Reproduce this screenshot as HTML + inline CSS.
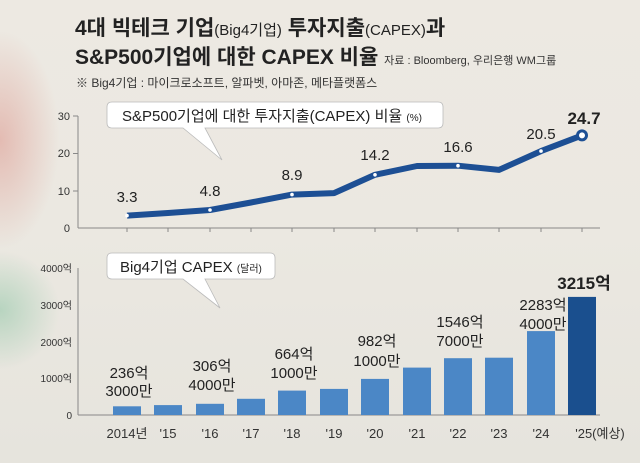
<!DOCTYPE html>
<html><head><meta charset="utf-8"><style>
body{margin:0;width:640px;height:463px;overflow:hidden;font-family:"Liberation Sans","Noto Sans CJK KR",sans-serif}
.bg{position:absolute;left:0;top:0;width:640px;height:463px;background:linear-gradient(180deg,#ede9e2 0%,#ebe8e1 50%,#e6e4dd 100%)}
</style></head><body>
<div class="bg"></div>
<div style="position:absolute;left:0;top:30px;width:60px;height:220px;background:radial-gradient(ellipse at 0% 50%,rgba(220,150,140,.55),rgba(235,230,220,0) 70%)"></div>
<div style="position:absolute;left:0;top:250px;width:60px;height:120px;background:radial-gradient(ellipse at 0% 50%,rgba(150,200,170,.6),rgba(235,230,220,0) 70%)"></div>
<svg width="640" height="463" style="position:absolute;left:0;top:0" font-family="Liberation Sans, Noto Sans CJK KR, sans-serif">
<text x="75" y="35" font-size="21" font-weight="bold" fill="#222">4대 빅테크 기업<tspan font-size="15" font-weight="normal">(Big4기업)</tspan> 투자지출<tspan font-size="15" font-weight="normal">(CAPEX)</tspan>과</text>
<text x="75" y="64" font-size="21" font-weight="bold" fill="#222">S&amp;P500기업에 대한 CAPEX 비율 <tspan font-size="11" font-weight="normal" fill="#333">자료 : Bloomberg, 우리은행 WM그룹</tspan></text>
<text x="76" y="87" font-size="12" fill="#333">※ Big4기업 : 마이크로소프트, 알파벳, 아마존, 메타플랫폼스</text>
<g font-size="11" fill="#333" text-anchor="end">
<text x="70" y="120">30</text><text x="70" y="157">20</text><text x="70" y="195">10</text><text x="70" y="232">0</text>
</g>
<line x1="78" y1="116" x2="78" y2="228" stroke="#888"/>
<line x1="78" y1="228" x2="600" y2="228" stroke="#888"/>
<g stroke="#888"><line x1="73" y1="116" x2="78" y2="116"/><line x1="73" y1="153.5" x2="78" y2="153.5"/><line x1="73" y1="191" x2="78" y2="191"/>
<line x1="127" y1="228" x2="127" y2="232"/><line x1="168" y1="228" x2="168" y2="232"/><line x1="210" y1="228" x2="210" y2="232"/><line x1="251" y1="228" x2="251" y2="232"/><line x1="292" y1="228" x2="292" y2="232"/><line x1="334" y1="228" x2="334" y2="232"/><line x1="375" y1="228" x2="375" y2="232"/><line x1="417" y1="228" x2="417" y2="232"/><line x1="458" y1="228" x2="458" y2="232"/><line x1="499" y1="228" x2="499" y2="232"/><line x1="541" y1="228" x2="541" y2="232"/><line x1="582" y1="228" x2="582" y2="232"/></g>
<polyline fill="none" stroke="#1d4f94" stroke-width="6" stroke-linejoin="round" points="127,215.6 168,213 210,210 251,202.5 292,194.6 334,193.1 375,174.8 417,166 458,165.7 499,169.9 541,151.1 582,135.4"/>
<g fill="#fff"><circle cx="127" cy="215.6" r="1.8"/><circle cx="210" cy="210" r="1.8"/><circle cx="292" cy="194.6" r="1.8"/><circle cx="375" cy="174.8" r="1.8"/><circle cx="458" cy="165.7" r="1.8"/><circle cx="541" cy="151.1" r="1.8"/></g>
<circle cx="582" cy="135.4" r="4.5" fill="#fff" stroke="#1d4f94" stroke-width="3"/>
<g font-size="15" fill="#222" text-anchor="middle">
<text x="127" y="202">3.3</text><text x="210" y="196">4.8</text><text x="292" y="180">8.9</text><text x="375" y="160">14.2</text><text x="458" y="152">16.6</text><text x="541" y="139">20.5</text>
<text x="584" y="124" font-weight="bold" font-size="17">24.7</text></g>
<path d="M112,102 H438 Q443,102 443,107 V123 Q443,128 438,128 H205 L222,160 L183,128 H112 Q107,128 107,123 V107 Q107,102 112,102 Z" fill="#fff" stroke="#bbb" stroke-width="0.8"/>
<text x="122" y="121" font-size="15" fill="#222">S&amp;P500기업에 대한 투자지출(CAPEX) 비율 <tspan font-size="10">(%)</tspan></text>
<g font-size="10" fill="#333" text-anchor="end">
<text x="72" y="272">4000억</text><text x="72" y="309">3000억</text><text x="72" y="346">2000억</text><text x="72" y="382">1000억</text><text x="72" y="419">0</text>
</g>
<line x1="78" y1="268" x2="78" y2="415" stroke="#888"/>
<line x1="78" y1="415" x2="600" y2="415" stroke="#888"/>
<g fill="#4b87c6">
<rect x="113" y="406.3" width="28" height="8.7"/><rect x="154" y="405.1" width="28" height="9.9"/><rect x="196" y="403.8" width="28" height="11.2"/><rect x="237" y="398.8" width="28" height="16.2"/><rect x="278" y="390.6" width="28" height="24.4"/><rect x="320" y="388.9" width="28" height="26.1"/><rect x="361" y="378.9" width="28" height="36.1"/><rect x="403" y="367.6" width="28" height="47.4"/><rect x="444" y="358.2" width="28" height="56.8"/><rect x="485" y="357.7" width="28" height="57.3"/><rect x="527" y="331.1" width="28" height="83.9"/></g>
<rect x="568" y="296.9" width="28" height="118.1" fill="#1a4f8e"/>
<g font-size="15" fill="#222" text-anchor="middle">
<text x="129" y="378">236억</text><text x="129" y="396">3000만</text>
<text x="212" y="371">306억</text><text x="212" y="390">4000만</text>
<text x="294" y="359">664억</text><text x="294" y="378">1000만</text>
<text x="377" y="346">982억</text><text x="377" y="366">1000만</text>
<text x="460" y="327">1546억</text><text x="460" y="346">7000만</text>
<text x="543" y="310">2283억</text><text x="543" y="329">4000만</text>
<text x="584" y="289" font-weight="bold" font-size="17">3215억</text></g>
<g font-size="13" fill="#333" text-anchor="middle">
<text x="127" y="438">2014년</text><text x="168" y="438">'15</text><text x="210" y="438">'16</text><text x="251" y="438">'17</text><text x="292" y="438">'18</text><text x="334" y="438">'19</text><text x="375" y="438">'20</text><text x="417" y="438">'21</text><text x="458" y="438">'22</text><text x="499" y="438">'23</text><text x="541" y="438">'24</text><text x="600" y="438">'25(예상)</text></g>
<path d="M112,253 H270 Q275,253 275,258 V274 Q275,279 270,279 H205 L220,308 L183,279 H112 Q107,279 107,274 V258 Q107,253 112,253 Z" fill="#fff" stroke="#bbb" stroke-width="0.8"/>
<text x="120" y="272" font-size="15" fill="#222">Big4기업 CAPEX <tspan font-size="10">(달러)</tspan></text>
</svg>
</body></html>
